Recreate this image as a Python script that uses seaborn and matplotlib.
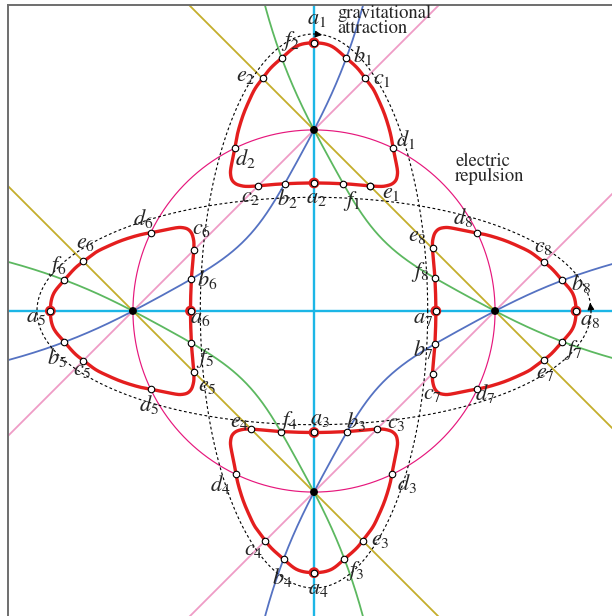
import numpy as np
import matplotlib
matplotlib.use("Agg")
import matplotlib.pyplot as plt
import seaborn as sns

# charges on the unit circle: top, left, bottom, right
charge_x = [0.0, -1.0, 0.0, 1.0]
charge_y = [1.0, 0.0, -1.0, 0.0]

# right half of the top loop, measured from its charge (outward is +y)
loop_half_x = [0.0, 0.094, 0.177, 0.238, 0.282, 0.326, 0.359, 0.387, 0.409, 0.425, 0.436, 0.448,
               0.459, 0.461, 0.453, 0.431, 0.398, 0.365, 0.309, 0.221, 0.155, 0.077, 0.0]
loop_half_y = [0.481, 0.464, 0.398, 0.343, 0.287, 0.227, 0.160, 0.094, 0.028, -0.033, -0.094, -0.155,
               -0.210, -0.243, -0.276, -0.298, -0.309, -0.312, -0.309, -0.301, -0.297, -0.294, -0.293]
# distance of each loop's frame from the centre (top, left, bottom, right)
loop_radius = [1.0, 0.975, 0.964, 0.966]

# bent curve between neighbouring charges, in frame along/across the pink line
curve_c0 = 0.32
curve_flat = 0.65
curve_w = 0.25

# dotted orbits
orbit_a = 1.53
orbit_b = 0.628

label_names = ['a_1', 'f_2', 'b_1', 'e_2', 'c_1', 'd_1', 'd_2', 'c_2', 'b_2', 'a_2', 'f_1', 'e_1',
               'd_6', 'c_6', 'e_6', 'f_6', 'b_6', 'a_5', 'a_6', 'b_5', 'f_5', 'c_5', 'e_5', 'd_5',
               'd_8', 'e_8', 'c_8', 'f_8', 'b_8', 'a_7', 'a_8', 'b_7', 'f_7', 'e_7', 'c_7', 'd_7',
               'e_4', 'f_4', 'a_3', 'b_3', 'c_3', 'd_4', 'd_3', 'e_3', 'c_4', 'f_3', 'b_4', 'a_4']
label_x = [0.015, -0.131, 0.266, -0.380, 0.377, 0.504, -0.380, -0.352, -0.148, 0.012, 0.211, 0.427,
           -0.944, -0.623, -1.264, -1.419, -0.590, -1.535, -0.629, -1.419, -0.601, -1.281, -0.587, -0.910,
           0.822, 0.573, 1.266, 0.587, 1.476, 0.603, 1.526, 0.603, 1.432, 1.277, 0.653, 0.946,
           -0.413, -0.140, 0.034, 0.233, 0.454, -0.518, 0.515, 0.366, -0.336, 0.225, -0.176, 0.023]
label_y = [1.613, 1.492, 1.412, 1.298, 1.279, 0.945, 0.845, 0.630, 0.624, 0.622, 0.610, 0.649,
           0.511, 0.453, 0.376, 0.251, 0.174, -0.036, -0.039, -0.257, -0.257, -0.329, -0.414, -0.514,
           0.519, 0.414, 0.354, 0.213, 0.152, -0.041, -0.052, -0.213, -0.218, -0.343, -0.459, -0.456,
           -0.613, -0.608, -0.597, -0.613, -0.619, -0.959, -0.950, -1.265, -1.320, -1.434, -1.470, -1.536]


def closed_spline(px, py, n=20):
    P = np.column_stack([px, py])
    N = len(P)
    t = np.linspace(0, 1, n, endpoint=False)[:, None]
    out = []
    for i in range(N):
        p0, p1, p2, p3 = P[i - 1], P[i], P[(i + 1) % N], P[(i + 2) % N]
        out.append(0.5 * (2 * p1 + (-p0 + p2) * t + (2 * p0 - 5 * p1 + 4 * p2 - p3) * t ** 2
                          + (-p0 + 3 * p1 - 3 * p2 + p3) * t ** 3))
    out = np.vstack(out)
    return np.vstack([out, out[:1]])


def crossings(A, B):
    p = A[:-1]; r = A[1:] - A[:-1]
    q = B[:-1]; s = B[1:] - B[:-1]
    rxs = r[:, None, 0] * s[None, :, 1] - r[:, None, 1] * s[None, :, 0]
    qp = q[None, :, :] - p[:, None, :]
    with np.errstate(divide='ignore', invalid='ignore'):
        t = (qp[..., 0] * s[None, :, 1] - qp[..., 1] * s[None, :, 0]) / rxs
        w = (qp[..., 0] * r[:, None, 1] - qp[..., 1] * r[:, None, 0]) / rxs
    m = (t >= 0) & (t < 1) & (w >= 0) & (w < 1)
    i, j = np.nonzero(m)
    return p[i] + t[i, j][:, None] * r[i]


def rot(xy, k):
    a = k * np.pi / 2
    R = np.array([[np.cos(a), -np.sin(a)], [np.sin(a), np.cos(a)]])
    return xy @ R.T


sns.set_style("white")
plt.rcParams['mathtext.fontset'] = 'stix'
plt.rcParams['font.family'] = ['STIXGeneral', 'DejaVu Serif']

fig = plt.figure(figsize=(6.12, 6.16), dpi=100)
ax = fig.add_axes([8 / 612, -1 / 616, 1.0, 612 / 616])
ax.set_xlim(-1.69, 1.69)
ax.set_ylim(-1.69, 1.69)
ax.set_xticks([]); ax.set_yticks([])
for side in ['right', 'bottom']:
    ax.spines[side].set_visible(False)
for side in ['left', 'top']:
    ax.spines[side].set_color('#6e6e6e')
    ax.spines[side].set_linewidth(1.4)

# curves
curves = {}
L = np.array([-3.0, 3.0])
curves['cyan'] = [np.column_stack([[0, 0], L]), np.column_stack([L, [0, 0]])]
curves['pink'] = [np.column_stack([L, L + 1]), np.column_stack([L, L - 1])]
curves['yellow'] = [np.column_stack([L, -L + 1]), np.column_stack([L, -L - 1])]

u = np.linspace(-2.6, 2.6, 900)
v = curve_c0 * (u ** 2 - 0.5) * (curve_flat + (1 - curve_flat) * np.exp(-u ** 2 / curve_w))
bx = -0.5 + (u - v) / np.sqrt(2)
by = 0.5 + (u + v) / np.sqrt(2)
blue = np.column_stack([bx, by])
curves['blue'] = [blue, -blue]
curves['green'] = [blue * [1, -1], blue * [-1, 1]]
th = np.linspace(0, 2 * np.pi, 721)
curves['circle'] = [np.column_stack([np.cos(th), np.sin(th)])]

styles = {'cyan': ('#1cb6e6', 1.7), 'pink': ('#ef9cc6', 1.3), 'yellow': ('#c4ae2c', 1.3),
          'blue': ('#5572c2', 1.3), 'green': ('#5cb860', 1.3), 'circle': ('#e6177c', 0.85)}
for name, segs in curves.items():
    col, lw = styles[name]
    for seg in segs:
        sns.lineplot(x=seg[:, 0], y=seg[:, 1], sort=False, estimator=None, color=col,
                     linewidth=lw, ax=ax, zorder=2)

# dotted orbits
sns.lineplot(x=orbit_b * np.cos(th), y=orbit_a * np.sin(th), sort=False, estimator=None,
             color='k', linewidth=0.8, linestyle=(0, (2.5, 2.2)), ax=ax, zorder=3)
sns.lineplot(x=orbit_a * np.cos(th), y=orbit_b * np.sin(th), sort=False, estimator=None,
             color='k', linewidth=0.8, linestyle=(0, (2.5, 2.2)), ax=ax, zorder=3)
ax.annotate('', xy=(0.06, orbit_a * np.sqrt(1 - (0.06 / orbit_b) ** 2)), xytext=(0.0, orbit_a),
            arrowprops=dict(arrowstyle='-|>', color='k', lw=0.8, mutation_scale=10), zorder=6)
ax.annotate('', xy=(orbit_a * np.sqrt(1 - (0.06 / orbit_b) ** 2), 0.06), xytext=(orbit_a, 0.0),
            arrowprops=dict(arrowstyle='-|>', color='k', lw=0.8, mutation_scale=10), zorder=6)

# red loops
hx = np.array(loop_half_x); hy = np.array(loop_half_y)
full_x = np.concatenate([hx, -hx[1:-1][::-1]])
full_y = np.concatenate([hy, hy[1:-1][::-1]])
base = closed_spline(full_x, full_y)
white_pts, ring_pts = [], []
for k in range(4):
    loop = rot(base + [0, loop_radius[k]], k)
    sns.lineplot(x=loop[:, 0], y=loop[:, 1], sort=False, estimator=None, color='#e41e1e',
                 linewidth=2.4, ax=ax, zorder=4)
    for name, segs in curves.items():
        for seg in segs:
            pts = crossings(loop, seg)
            if len(pts):
                (ring_pts if name == 'cyan' else white_pts).append(pts)
white_pts = np.vstack(white_pts); ring_pts = np.vstack(ring_pts)

sns.scatterplot(x=ring_pts[:, 0], y=ring_pts[:, 1], s=60, color='#e41e1e', edgecolor='none',
                ax=ax, zorder=5)
allw = np.vstack([white_pts, ring_pts])
sns.scatterplot(x=allw[:, 0], y=allw[:, 1], s=22, color='white', edgecolor='k', linewidth=0.8,
                ax=ax, zorder=6)
sns.scatterplot(x=charge_x, y=charge_y, s=32, color='k', edgecolor='none', ax=ax, zorder=6)

for nm, x, y in zip(label_names, label_x, label_y):
    ax.text(x, y, '$' + nm + '$', fontsize=16, ha='center', va='center', zorder=7)

ax.text(0.128, 1.690, 'gravitational\nattraction', fontsize=13.4, ha='left', va='top',
        linespacing=0.85, zorder=7)
ax.text(0.780, 0.875, 'electric\nrepulsion', fontsize=13.4, ha='left', va='top',
        linespacing=0.85, zorder=7)

fig.savefig('out.png', dpi=100)
